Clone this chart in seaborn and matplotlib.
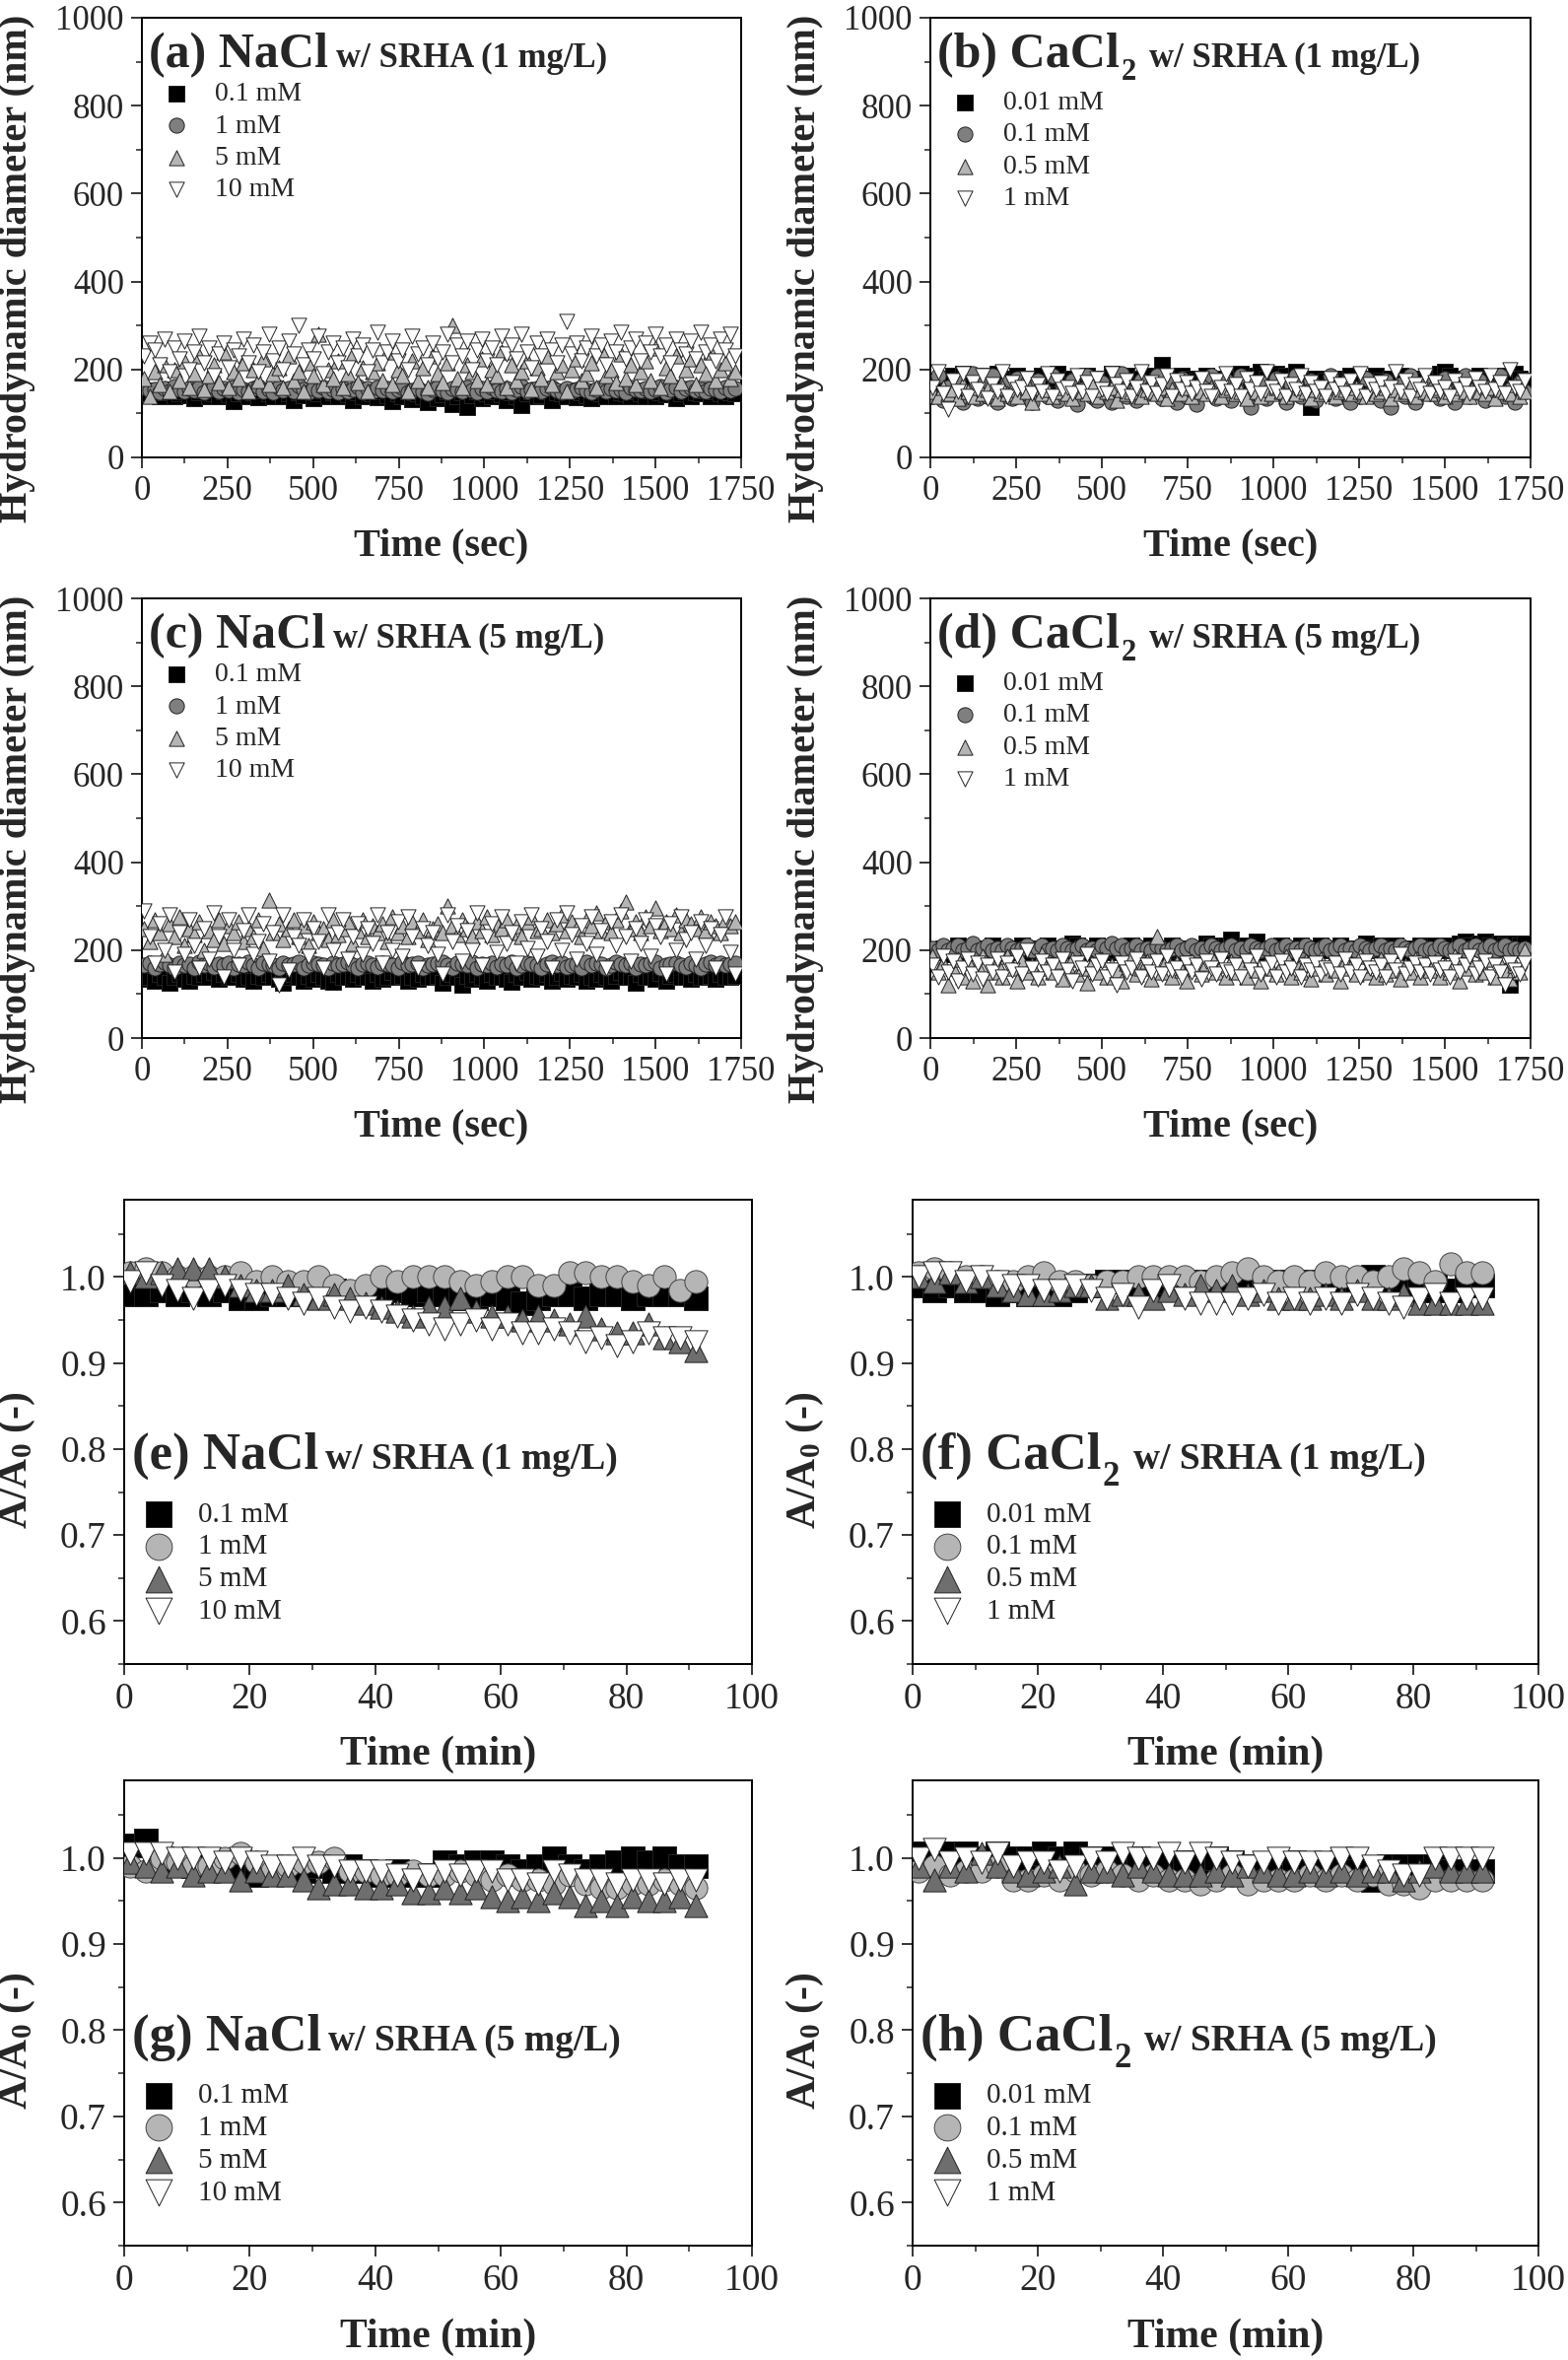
import matplotlib
matplotlib.use('Agg')
import matplotlib.pyplot as plt
from matplotlib.ticker import MultipleLocator, FormatStrFormatter
import seaborn as sns

sns.set_style('ticks')
plt.rcParams['font.family'] = ['Liberation Serif', 'DejaVu Serif']
plt.rcParams['mathtext.fontset'] = 'custom'
plt.rcParams['mathtext.rm'] = 'Liberation Serif:bold'
plt.rcParams['mathtext.bf'] = 'Liberation Serif:bold'
plt.rcParams['mathtext.it'] = 'Liberation Serif:bold:italic'
plt.rcParams['mathtext.default'] = 'rm'

# ── data: hydrodynamic diameter (nm) vs time (sec) ───────────────────────────
t_sec = [7, 22, 36, 51, 65, 80, 94, 109, 123, 138,
         152, 167, 181, 196, 210, 225, 239, 254, 268, 283,
         297, 312, 326, 341, 355, 370, 384, 399, 413, 428,
         442, 457, 471, 486, 500, 515, 529, 544, 558, 573,
         587, 602, 616, 631, 645, 660, 674, 689, 703, 718,
         732, 747, 761, 776, 790, 805, 819, 834, 848, 863,
         877, 892, 906, 921, 935, 950, 964, 979, 993, 1008,
         1022, 1037, 1051, 1066, 1080, 1095, 1109, 1124, 1138, 1153,
         1167, 1182, 1196, 1211, 1225, 1240, 1254, 1269, 1283, 1298,
         1312, 1327, 1341, 1356, 1370, 1385, 1399, 1414, 1428, 1443,
         1457, 1472, 1486, 1501, 1515, 1530, 1544, 1559, 1573, 1588,
         1602, 1617, 1631, 1646, 1660, 1675, 1689, 1704, 1718, 1733]

# (a) NaCl, SRHA 1 mg/L
a_01 = [150, 145, 152, 140, 148, 155, 138, 145, 150, 142, 135, 148, 152, 140, 145, 138, 150, 143, 128, 145,
        150, 140, 148, 136, 152, 145, 140, 150, 138, 146, 130, 148, 142, 150, 135, 145, 152, 140, 147, 138,
        150, 143, 130, 148, 140, 152, 145, 136, 150, 142, 128, 145, 138, 150, 132, 145, 140, 125, 148, 135,
        143, 150, 120, 140, 148, 115, 142, 150, 135, 145, 138, 150, 143, 130, 148, 140, 118, 145, 150, 138,
        142, 150, 130, 148, 145, 140, 152, 136, 148, 142, 135, 150, 145, 140, 152, 138, 148, 145, 140, 150,
        145, 138, 152, 140, 148, 143, 150, 135, 145, 150, 140, 148, 145, 152, 138, 150, 145, 140, 148, 145]
a_1 = [160, 152, 155, 148, 158, 150, 162, 155, 150, 158, 152, 160, 148, 155, 162, 150, 157, 153, 160, 148,
       155, 150, 158, 162, 150, 155, 148, 160, 152, 158, 150, 163, 155, 148, 158, 152, 160, 150, 155, 148,
       158, 150, 155, 162, 148, 156, 150, 160, 153, 158, 150, 155, 160, 148, 152, 158, 150, 145, 155, 160,
       152, 148, 158, 155, 150, 160, 152, 148, 156, 150, 160, 153, 150, 158, 148, 155, 162, 150, 155, 158,
       150, 156, 160, 152, 148, 158, 150, 155, 160, 152, 148, 155, 160, 150, 158, 152, 155, 148, 160, 155,
       152, 158, 150, 155, 162, 148, 155, 160, 150, 156, 160, 152, 155, 150, 158, 155, 150, 160, 152, 158]
a_5 = [180, 140, 195, 165, 210, 150, 200, 175, 220, 160, 190, 230, 155, 185, 210, 170, 240, 160, 195, 180,
       215, 150, 200, 175, 225, 165, 190, 205, 160, 230, 175, 195, 150, 215, 185, 280, 165, 200, 180, 220,
       160, 190, 235, 170, 205, 150, 195, 215, 175, 240, 165, 200, 185, 150, 220, 175, 205, 160, 230, 190,
       170, 215, 300, 180, 160, 210, 195, 175, 225, 165, 200, 185, 240, 160, 210, 175, 195, 220, 155, 205,
       180, 230, 165, 195, 210, 150, 200, 225, 175, 190, 215, 160, 245, 185, 200, 170, 235, 180, 210, 165,
       195, 220, 175, 250, 160, 205, 185, 230, 170, 200, 225, 165, 210, 190, 240, 175, 200, 215, 180, 195]
a_10 = [230, 260, 245, 210, 270, 195, 250, 225, 265, 200, 240, 275, 215, 250, 185, 235, 260, 205, 245, 230,
        270, 215, 255, 195, 240, 280, 220, 250, 200, 265, 235, 300, 210, 245, 225, 275, 190, 240, 260, 215,
        250, 205, 270, 230, 255, 195, 245, 285, 215, 240, 265, 220, 245, 200, 275, 235, 250, 210, 260, 225,
        240, 280, 215, 255, 230, 265, 200, 245, 270, 220, 250, 210, 275, 235, 255, 225, 280, 240, 205, 260,
        230, 270, 245, 215, 255, 310, 235, 260, 220, 250, 275, 230, 255, 210, 265, 240, 285, 225, 250, 270,
        220, 260, 240, 280, 230, 255, 215, 270, 245, 235, 265, 225, 285, 240, 255, 220, 270, 245, 280, 230]

# (b) CaCl2, SRHA 1 mg/L
b_001 = [175, 170, 180, 165, 185, 175, 190, 170, 180, 165, 185, 175, 170, 190, 180, 165, 175, 185, 170, 180,
         165, 175, 185, 170, 180, 190, 175, 165, 180, 175, 170, 185, 175, 165, 180, 175, 190, 170, 180, 185,
         175, 165, 180, 170, 185, 175, 210, 180, 170, 175, 185, 170, 180, 175, 165, 185, 175, 170, 180, 175,
         170, 180, 190, 175, 165, 185, 195, 180, 170, 190, 175, 185, 170, 195, 180, 175, 115, 180, 170, 175,
         165, 180, 175, 170, 185, 175, 165, 180, 170, 185, 175, 170, 180, 165, 185, 175, 170, 180, 175, 165,
         180, 175, 190, 195, 185, 170, 175, 180, 165, 175, 185, 170, 175, 180, 170, 185, 175, 190, 180, 175]
b_01 = [140, 185, 130, 160, 145, 175, 125, 150, 190, 135, 165, 140, 185, 125, 155, 170, 135, 180, 145, 160,
        125, 175, 150, 140, 185, 130, 160, 145, 175, 120, 155, 185, 140, 130, 170, 150, 125, 165, 190, 140,
        150, 130, 175, 145, 160, 185, 135, 150, 170, 125, 180, 140, 155, 120, 165, 150, 185, 135, 145, 175,
        130, 160, 185, 140, 115, 155, 170, 135, 150, 180, 145, 125, 165, 185, 140, 150, 175, 130, 160, 145,
        185, 135, 150, 170, 125, 155, 140, 180, 145, 160, 130, 175, 115, 150, 165, 140, 185, 125, 155, 170,
        145, 160, 135, 180, 150, 125, 165, 185, 140, 155, 175, 130, 160, 145, 185, 140, 155, 125, 170, 150]
b_05 = [150, 140, 160, 145, 155, 135, 165, 150, 140, 160, 145, 155, 150, 135, 160, 145, 155, 140, 165, 150,
        125, 160, 145, 155, 140, 150, 160, 145, 135, 155, 150, 145, 165, 140, 155, 150, 160, 130, 155, 145,
        150, 160, 140, 155, 150, 145, 160, 135, 155, 150, 145, 160, 140, 155, 150, 145, 160, 150, 140, 155,
        160, 145, 150, 135, 165, 150, 140, 155, 145, 160, 150, 140, 155, 145, 160, 150, 135, 155, 145, 150,
        165, 140, 150, 155, 145, 160, 150, 140, 155, 145, 150, 160, 135, 155, 145, 150, 165, 140, 155, 150,
        145, 155, 160, 140, 150, 145, 160, 150, 140, 155, 150, 145, 160, 135, 155, 150, 145, 165, 140, 150]
b_1 = [160, 195, 145, 110, 175, 150, 190, 140, 170, 155, 185, 135, 165, 150, 195, 140, 170, 155, 160, 180,
       145, 165, 150, 190, 140, 175, 155, 160, 145, 185, 150, 170, 140, 180, 155, 145, 190, 165, 150, 175,
       140, 160, 195, 150, 170, 145, 165, 185, 140, 175, 155, 170, 145, 160, 180, 150, 140, 175, 160, 190,
       150, 165, 140, 180, 155, 170, 145, 195, 160, 150, 175, 140, 165, 155, 185, 145, 170, 150, 160, 140,
       180, 155, 165, 145, 175, 150, 190, 140, 165, 155, 170, 145, 160, 195, 150, 175, 140, 165, 155, 185,
       145, 170, 150, 160, 140, 175, 155, 165, 145, 180, 160, 150, 185, 155, 170, 145, 200, 160, 150, 175]

# (c) NaCl, SRHA 5 mg/L
c_01 = [135, 140, 130, 145, 138, 125, 140, 145, 135, 130, 142, 138, 145, 140, 150, 135, 145, 140, 138, 145,
        135, 140, 130, 142, 138, 145, 140, 135, 125, 140, 145, 138, 130, 142, 135, 145, 140, 130, 128, 145,
        138, 140, 135, 145, 138, 140, 130, 145, 135, 140, 150, 138, 142, 130, 140, 135, 145, 138, 140, 142,
        125, 140, 145, 138, 120, 142, 135, 145, 140, 130, 145, 138, 140, 135, 128, 145, 140, 150, 135, 142,
        138, 145, 130, 140, 148, 135, 142, 138, 145, 130, 140, 135, 145, 138, 130, 142, 150, 138, 140, 125,
        145, 138, 140, 135, 148, 130, 142, 145, 138, 140, 135, 145, 140, 138, 142, 135, 145, 140, 138, 142]
c_1 = [165, 170, 160, 168, 172, 165, 160, 170, 165, 168, 160, 172, 165, 170, 162, 168, 165, 170, 160, 168,
       165, 172, 165, 160, 170, 168, 165, 160, 170, 165, 168, 172, 160, 165, 170, 168, 165, 160, 170, 165,
       168, 172, 165, 160, 168, 170, 165, 162, 170, 168, 165, 160, 172, 165, 168, 170, 160, 165, 168, 170,
       172, 165, 160, 170, 168, 165, 172, 160, 168, 165, 170, 162, 168, 165, 172, 160, 165, 170, 168, 165,
       160, 168, 172, 165, 170, 162, 165, 168, 160, 172, 165, 170, 168, 160, 165, 172, 168, 165, 170, 160,
       168, 165, 170, 172, 160, 165, 168, 170, 165, 162, 170, 165, 160, 168, 172, 165, 170, 165, 168, 170]
c_5 = [250, 220, 270, 240, 190, 260, 230, 275, 210, 250, 235, 265, 200, 245, 225, 270, 215, 255, 240, 265,
       220, 250, 230, 270, 205, 315, 240, 260, 225, 250, 270, 230, 255, 210, 265, 240, 250, 225, 270, 235,
       250, 265, 215, 245, 270, 230, 255, 240, 260, 220, 275, 240, 255, 230, 265, 245, 270, 225, 250, 260,
       240, 300, 255, 235, 270, 250, 230, 265, 245, 275, 235, 260, 250, 270, 240, 255, 230, 265, 275, 245,
       250, 270, 240, 260, 280, 245, 265, 250, 230, 270, 255, 285, 245, 265, 240, 270, 290, 310, 250, 265,
       240, 275, 255, 295, 245, 265, 250, 280, 240, 270, 260, 250, 275, 245, 265, 255, 240, 270, 255, 265]
c_10 = [290, 230, 170, 260, 200, 280, 150, 240, 190, 270, 210, 160, 250, 180, 285, 230, 140, 270, 200, 165,
        245, 280, 190, 220, 260, 175, 240, 120, 280, 155, 230, 210, 270, 185, 250, 220, 160, 280, 200, 240,
        270, 180, 230, 260, 190, 250, 215, 280, 170, 240, 200, 265, 185, 275, 230, 160, 250, 210, 240, 190,
        145, 280, 220, 255, 175, 245, 200, 285, 165, 230, 260, 195, 275, 215, 240, 170, 265, 205, 280, 185,
        250, 220, 160, 270, 200, 285, 235, 180, 255, 215, 275, 190, 245, 160, 265, 210, 280, 230, 175, 250,
        215, 270, 185, 255, 230, 145, 260, 200, 275, 225, 240, 180, 265, 210, 250, 160, 235, 275, 195, 145]

# (d) CaCl2, SRHA 5 mg/L
d_001 = [200, 195, 205, 190, 200, 210, 195, 205, 200, 195, 205, 200, 210, 195, 205, 200, 195, 205, 210, 200,
         195, 205, 200, 210, 195, 200, 205, 195, 215, 210, 205, 200, 195, 210, 200, 205, 195, 200, 205, 200,
         210, 195, 205, 200, 210, 205, 200, 195, 210, 200, 205, 195, 200, 205, 200, 215, 210, 205, 200, 210,
         225, 205, 200, 210, 205, 220, 195, 200, 205, 200, 210, 195, 205, 200, 210, 205, 200, 195, 210, 205,
         200, 205, 210, 200, 195, 205, 200, 215, 205, 200, 210, 205, 200, 210, 205, 200, 195, 205, 210, 200,
         205, 210, 200, 205, 210, 200, 215, 220, 210, 205, 215, 220, 210, 205, 215, 210, 120, 215, 210, 215]
d_01 = [205, 200, 210, 200, 205, 210, 200, 205, 215, 200, 205, 210, 200, 205, 200, 210, 205, 200, 205, 210,
        200, 205, 210, 200, 205, 200, 210, 205, 200, 205, 210, 200, 205, 200, 210, 205, 215, 205, 210, 200,
        205, 210, 200, 205, 200, 210, 205, 200, 205, 210, 200, 205, 210, 200, 205, 200, 210, 205, 200, 205,
        210, 200, 205, 200, 210, 205, 200, 205, 210, 200, 205, 210, 200, 205, 200, 210, 205, 200, 205, 210,
        200, 205, 210, 200, 205, 200, 210, 205, 200, 205, 210, 200, 205, 200, 210, 205, 200, 205, 210, 200,
        205, 200, 210, 205, 200, 205, 210, 200, 205, 210, 200, 205, 210, 200, 205, 210, 200, 205, 200, 205]
d_05 = [185, 150, 170, 120, 160, 180, 140, 175, 130, 165, 185, 120, 150, 170, 140, 185, 160, 130, 175, 150,
        165, 140, 190, 160, 150, 175, 135, 165, 180, 145, 160, 125, 170, 150, 180, 140, 165, 155, 130, 170,
        185, 145, 160, 175, 135, 230, 150, 180, 140, 170, 155, 130, 175, 160, 145, 170, 185, 150, 165, 140,
        175, 150, 165, 140, 180, 155, 130, 170, 160, 145, 165, 185, 140, 170, 150, 175, 135, 160, 180, 145,
        170, 155, 130, 175, 160, 145, 185, 150, 165, 140, 180, 145, 170, 155, 135, 165, 150, 180, 140, 170,
        155, 175, 140, 165, 150, 185, 130, 160, 175, 145, 165, 150, 180, 140, 170, 155, 135, 165, 150, 200]
d_1 = [165, 140, 185, 150, 175, 130, 160, 180, 145, 170, 135, 165, 150, 180, 140, 170, 155, 185, 145, 200,
       160, 135, 175, 150, 165, 140, 180, 155, 130, 170, 160, 190, 145, 165, 175, 140, 155, 120, 170, 150,
       160, 180, 140, 165, 150, 175, 145, 185, 155, 160, 140, 170, 150, 165, 135, 175, 160, 145, 180, 155,
       150, 165, 140, 175, 155, 185, 145, 160, 170, 140, 175, 150, 160, 185, 140, 165, 155, 170, 145, 160,
       155, 170, 145, 180, 150, 165, 140, 175, 160, 150, 165, 140, 175, 155, 190, 145, 160, 170, 150, 165,
       145, 170, 155, 160, 140, 175, 150, 165, 185, 145, 160, 175, 140, 165, 150, 120, 170, 155, 145, 170]

# ── data: A/A0 vs time (min) ─────────────────────────────────────────────────
t_min = [1.0, 3.5, 6.0, 8.5, 11.0, 13.5, 16.0, 18.5, 21.0, 23.5, 26.0, 28.5, 31.0, 33.5, 36.0, 38.5,
         41.0, 43.5, 46.0, 48.5, 51.0, 53.5, 56.0, 58.5, 61.0, 63.5, 66.0, 68.5, 71.0, 73.5, 76.0, 78.5,
         81.0, 83.5, 86.0, 88.5, 91.0]

e_01 = [0.98, 0.98, 0.985, 0.98, 0.985, 0.98, 0.985, 0.975, 0.975, 0.98, 0.98, 0.985, 0.985, 0.985, 0.98, 0.98,
        0.98, 0.985, 0.98, 0.985, 0.98, 0.975, 0.975, 0.98, 0.975, 0.97, 0.975, 0.98, 0.98, 0.975, 0.98, 0.98,
        0.975, 0.98, 0.98, 0.98, 0.975]
e_1 = [1.005, 1.01, 1.005, 1.0, 1.0, 1.0, 1.0, 1.005, 0.995, 1.0, 0.995, 0.995, 1.0, 0.99, 0.985, 0.99,
       1.0, 0.995, 1.0, 1.0, 1.0, 0.995, 0.99, 0.995, 1.0, 1.0, 0.99, 0.99, 1.005, 1.005, 1.0, 1.0,
       0.995, 0.99, 1.0, 0.985, 0.995]
e_5 = [1.005, 1.0, 1.005, 1.01, 1.01, 1.01, 1.0, 0.99, 0.985, 0.985, 0.99, 0.98, 0.975, 0.98, 0.975, 0.97,
       0.965, 0.96, 0.955, 0.965, 0.965, 0.975, 0.96, 0.955, 0.955, 0.95, 0.955, 0.95, 0.945, 0.955, 0.94, 0.935,
       0.935, 0.945, 0.93, 0.925, 0.915]
e_10 = [0.995, 1.005, 0.99, 0.985, 0.975, 0.985, 0.99, 0.985, 0.98, 0.98, 0.975, 0.97, 0.975, 0.965, 0.96, 0.965,
        0.96, 0.955, 0.95, 0.945, 0.94, 0.945, 0.95, 0.94, 0.945, 0.935, 0.935, 0.94, 0.935, 0.925, 0.93, 0.92,
        0.925, 0.935, 0.93, 0.93, 0.925]

f_001 = [0.99, 0.985, 0.99, 0.985, 0.985, 0.98, 0.985, 0.98, 0.98, 0.98, 0.985, 0.99, 0.995, 0.995, 0.99, 0.99,
         0.995, 0.99, 0.995, 0.99, 0.995, 0.995, 0.99, 0.995, 0.99, 0.995, 0.99, 0.995, 0.995, 1.0, 0.99, 0.99,
         0.985, 0.99, 0.985, 0.99, 0.99]
f_01 = [1.005, 1.01, 1.005, 1.0, 1.0, 0.995, 0.995, 1.0, 1.005, 0.995, 0.995, 0.99, 0.995, 0.995, 1.0, 1.0,
        1.0, 1.0, 0.995, 1.0, 1.005, 1.01, 1.0, 0.995, 1.0, 0.995, 1.005, 1.0, 1.0, 0.995, 1.0, 1.01,
        1.005, 0.995, 1.015, 1.005, 1.005]
f_05 = [1.0, 0.995, 1.005, 0.995, 1.0, 0.99, 0.985, 0.98, 0.98, 0.985, 0.99, 0.99, 0.975, 0.98, 0.98, 0.975,
        0.985, 0.98, 0.99, 0.985, 0.99, 0.98, 0.985, 0.975, 0.975, 0.975, 0.98, 0.975, 0.985, 0.975, 0.975, 0.98,
        0.97, 0.97, 0.97, 0.97, 0.97]
f_1 = [1.0, 1.005, 1.005, 0.995, 1.0, 0.995, 0.99, 0.99, 0.985, 0.985, 0.99, 0.985, 0.975, 0.98, 0.965, 0.985,
       0.99, 0.975, 0.97, 0.97, 0.97, 0.975, 0.98, 0.97, 0.975, 0.97, 0.975, 0.97, 0.98, 0.975, 0.97, 0.965,
       0.975, 0.98, 0.97, 0.975, 0.975]

g_01 = [1.015, 1.02, 1.0, 0.995, 0.99, 0.995, 0.995, 0.99, 0.98, 0.985, 0.985, 0.985, 0.99, 0.985, 0.99, 0.985,
        0.98, 0.985, 0.98, 0.98, 0.995, 0.99, 0.995, 0.995, 0.99, 0.985, 0.99, 1.0, 0.99, 0.985, 0.99, 0.995,
        1.0, 0.995, 1.0, 0.99, 0.99]
g_1 = [0.99, 0.985, 1.0, 0.995, 0.99, 0.99, 1.0, 1.005, 0.995, 0.985, 0.99, 0.995, 0.995, 1.0, 0.985, 0.985,
       0.98, 0.98, 0.985, 0.98, 0.98, 0.985, 0.98, 0.975, 0.98, 0.975, 0.975, 0.97, 0.98, 0.97, 0.965, 0.965,
       0.97, 0.97, 0.975, 0.97, 0.965]
g_5 = [0.995, 0.99, 0.985, 0.99, 0.98, 0.985, 0.985, 0.975, 0.985, 0.98, 0.98, 0.975, 0.965, 0.97, 0.97, 0.965,
       0.965, 0.97, 0.96, 0.96, 0.965, 0.96, 0.965, 0.955, 0.95, 0.955, 0.95, 0.96, 0.955, 0.945, 0.95, 0.945,
       0.955, 0.95, 0.95, 0.955, 0.945]
g_10 = [1.005, 1.005, 1.005, 1.0, 1.0, 1.0, 0.995, 1.0, 0.995, 0.99, 0.99, 1.0, 0.99, 0.99, 0.985, 0.985,
        0.985, 0.98, 0.975, 0.98, 0.985, 0.98, 0.985, 0.985, 0.975, 0.975, 0.97, 0.985, 0.98, 0.975, 0.975, 0.97,
        0.975, 0.975, 0.97, 0.975, 0.975]

h_001 = [1.005, 1.0, 1.005, 1.005, 1.0, 1.005, 1.0, 1.0, 1.005, 1.0, 1.005, 1.0, 1.0, 0.995, 1.0, 0.995,
         0.995, 0.995, 0.995, 1.0, 0.995, 0.99, 0.99, 0.99, 0.995, 0.99, 0.99, 0.995, 0.985, 0.975, 0.99, 0.99,
         0.99, 0.99, 0.985, 0.985, 0.985]
h_01 = [0.985, 0.99, 0.98, 0.985, 0.985, 0.99, 0.975, 0.975, 0.98, 0.975, 0.985, 0.98, 0.985, 0.98, 0.975, 0.98,
        0.975, 0.975, 0.97, 0.975, 0.98, 0.97, 0.975, 0.975, 0.975, 0.98, 0.975, 0.98, 0.975, 0.98, 0.97, 0.97,
        0.965, 0.975, 0.975, 0.975, 0.975]
h_05 = [0.99, 0.975, 0.99, 0.985, 1.005, 0.99, 0.985, 0.98, 0.985, 0.99, 0.97, 0.985, 0.985, 0.98, 0.99, 0.985,
        0.98, 0.98, 0.98, 0.985, 0.98, 0.99, 0.985, 0.98, 0.98, 0.985, 0.98, 0.985, 0.98, 0.985, 0.985, 0.975,
        0.985, 0.99, 0.985, 0.985, 0.985]
h_1 = [1.0, 1.01, 0.995, 1.0, 0.995, 1.005, 0.99, 0.995, 0.995, 0.985, 0.99, 1.0, 0.995, 1.005, 1.0, 1.0,
       1.005, 0.995, 1.005, 1.0, 0.995, 0.99, 0.995, 1.0, 0.995, 0.995, 0.995, 1.0, 1.0, 0.99, 0.985, 0.98,
       0.98, 1.0, 1.0, 1.0, 1.0]

nacl_labels = ['0.1 mM', '1 mM', '5 mM', '10 mM']
cacl_labels = ['0.01 mM', '0.1 mM', '0.5 mM', '1 mM']

markers = ['s', 'o', '^', 'v']
colors_top = ['black', '#7f7f7f', '#b5b5b5', 'white']
colors_bot = ['black', '#b5b5b5', '#6e6e6e', 'white']

W, H = 1591, 2394
fig = plt.figure(figsize=(W / 100, H / 100), dpi=100)
renderer = fig.canvas.get_renderer()


def add_ax(left, right, top, bottom):
    return fig.add_axes([left / W, 1 - bottom / H, (right - left) / W, (bottom - top) / H])


def panel_title(ax, tag, sub, rest, y, big, small, sub_size, drop):
    # tag in large bold, optional dropped subscript, then smaller bold remainder
    inv = ax.transAxes.inverted()
    t1 = ax.text(0.012, y, tag, transform=ax.transAxes, fontsize=big,
                 fontweight='bold', va='baseline', ha='left')
    bb = t1.get_window_extent(renderer)
    x_end = inv.transform((bb.x1, bb.y0))[0]
    if sub:
        ydisp = ax.transAxes.transform((0, y))[1] - drop
        ysub = inv.transform((0, ydisp))[1]
        t2 = ax.text(x_end + 0.002, ysub, sub, transform=ax.transAxes, fontsize=sub_size,
                     fontweight='bold', va='baseline', ha='left')
        bb = t2.get_window_extent(renderer)
        x_end = inv.transform((bb.x1, bb.y0))[0] + 0.01
    ax.text(x_end + 0.012, y, rest, transform=ax.transAxes, fontsize=small,
            fontweight='bold', va='baseline', ha='left')


def style_axes(ax, top_row):
    for sp in ax.spines.values():
        sp.set_visible(True)
        sp.set_linewidth(1.4)
        sp.set_color('black')
    ax.tick_params(which='major', direction='out', length=8, width=1.3,
                   labelsize=25 if top_row else 27, pad=5, top=False, right=False)
    ax.tick_params(which='minor', direction='out', length=4.5, width=1.1,
                   top=False, right=False)


def diameter_panel(ax, series, labels, tag, sub, rest):
    for vals, lab, m, c in zip(series, labels, markers, colors_top):
        sns.scatterplot(x=t_sec, y=vals, ax=ax, marker=m, s=120, color=c,
                        edgecolor='#222222', linewidth=0.7, label=lab, zorder=3)
    ax.set_xlim(0, 1750)
    ax.set_ylim(0, 1000)
    ax.xaxis.set_major_locator(MultipleLocator(250))
    ax.xaxis.set_minor_locator(MultipleLocator(125))
    ax.yaxis.set_major_locator(MultipleLocator(200))
    ax.yaxis.set_minor_locator(MultipleLocator(100))
    style_axes(ax, True)
    ax.set_xlabel('Time (sec)', fontsize=29, fontweight='bold')
    ax.set_ylabel('Hydrodynamic diameter (nm)', fontsize=29, fontweight='bold')
    ax.xaxis.set_label_coords(0.5, -0.16)
    ax.yaxis.set_label_coords(-0.178, 0.43)
    top = 0.855 if not sub else 0.835
    ax.legend(loc='upper left', bbox_to_anchor=(0.03, top), frameon=False,
              fontsize=20, handlelength=1.2, handletextpad=0.8, labelspacing=0.25,
              borderpad=0, borderaxespad=0, markerscale=1.0)
    panel_title(ax, tag, sub, rest, 0.888, 36, 25, 22, 13)


def absorb_panel(ax, series, labels, tag, sub, rest):
    for vals, lab, m, c in zip(series, labels, markers, colors_bot):
        edge = '#444444' if m == 'o' else '#222222'
        sns.scatterplot(x=t_min, y=vals, ax=ax, marker=m, s=280, color=c,
                        edgecolor=edge, linewidth=0.7, label=lab, zorder=3)
    ax.set_xlim(0, 100)
    ax.set_ylim(0.55, 1.09)
    ax.xaxis.set_major_locator(MultipleLocator(20))
    ax.xaxis.set_minor_locator(MultipleLocator(10))
    ax.yaxis.set_major_locator(MultipleLocator(0.1))
    ax.yaxis.set_minor_locator(MultipleLocator(0.05))
    ax.yaxis.set_major_formatter(FormatStrFormatter('%.1f'))
    style_axes(ax, False)
    ax.set_xlabel('Time (min)', fontsize=30, fontweight='bold')
    ax.set_ylabel('A/A$_0$ (-)', fontsize=30, fontweight='bold')
    ax.xaxis.set_label_coords(0.5, -0.155)
    ax.yaxis.set_label_coords(-0.138, 0.44)
    ax.legend(loc='upper left', bbox_to_anchor=(0.028, 0.35), frameon=False,
              fontsize=21, handlelength=1.2, handletextpad=0.75, labelspacing=0.22,
              borderpad=0, borderaxespad=0, markerscale=1.15)
    panel_title(ax, tag, sub, rest, 0.42, 38, 27, 25, 17)


ax_a = add_ax(144, 752, 18, 464)
ax_b = add_ax(944, 1553, 18, 464)
ax_c = add_ax(144, 752, 607, 1053)
ax_d = add_ax(944, 1553, 607, 1053)
ax_e = add_ax(126, 763, 1217, 1688)
ax_f = add_ax(926, 1561, 1217, 1688)
ax_g = add_ax(126, 763, 1806, 2278)
ax_h = add_ax(926, 1561, 1806, 2278)

diameter_panel(ax_a, [a_01, a_1, a_5, a_10], nacl_labels, '(a) NaCl', '', 'w/ SRHA (1 mg/L)')
diameter_panel(ax_b, [b_001, b_01, b_05, b_1], cacl_labels, '(b) CaCl', '2', 'w/ SRHA (1 mg/L)')
diameter_panel(ax_c, [c_01, c_1, c_5, c_10], nacl_labels, '(c) NaCl', '', 'w/ SRHA (5 mg/L)')
diameter_panel(ax_d, [d_001, d_01, d_05, d_1], cacl_labels, '(d) CaCl', '2', 'w/ SRHA (5 mg/L)')
absorb_panel(ax_e, [e_01, e_1, e_5, e_10], nacl_labels, '(e) NaCl', '', 'w/ SRHA (1 mg/L)')
absorb_panel(ax_f, [f_001, f_01, f_05, f_1], cacl_labels, '(f) CaCl', '2', 'w/ SRHA (1 mg/L)')
absorb_panel(ax_g, [g_01, g_1, g_5, g_10], nacl_labels, '(g) NaCl', '', 'w/ SRHA (5 mg/L)')
absorb_panel(ax_h, [h_001, h_01, h_05, h_1], cacl_labels, '(h) CaCl', '2', 'w/ SRHA (5 mg/L)')

fig.savefig('out.png', dpi=100, facecolor='white')
plt.close(fig)
